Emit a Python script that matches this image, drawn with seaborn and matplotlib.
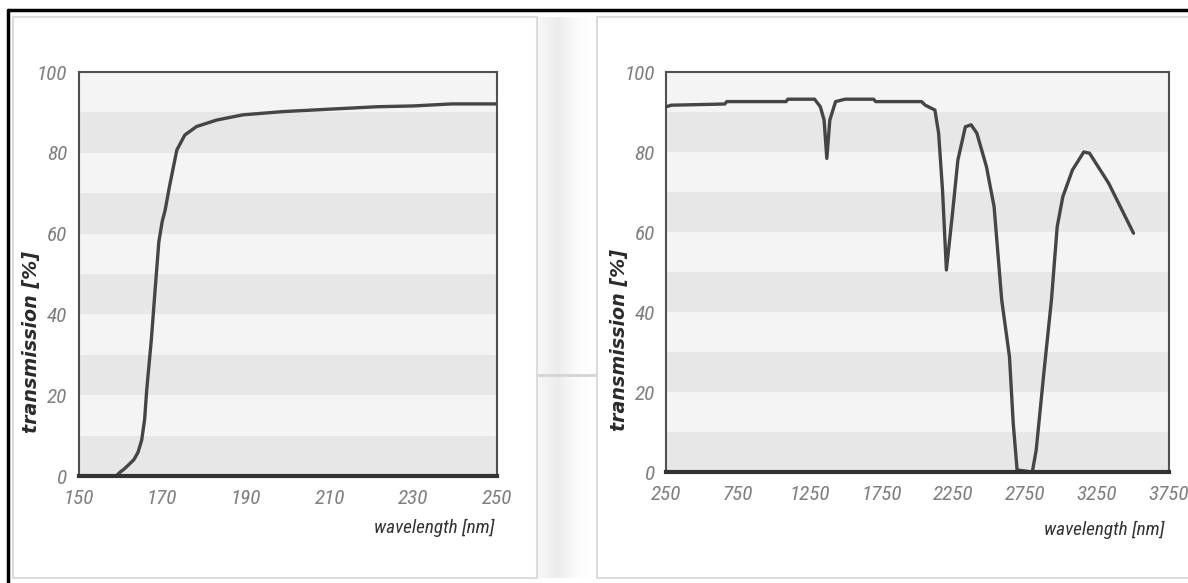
import numpy as np
import matplotlib.pyplot as plt
import pandas as pd
import seaborn as sns
from matplotlib import font_manager as fm
from matplotlib.colors import LinearSegmentedColormap
from matplotlib.patches import Rectangle
from matplotlib.lines import Line2D

# UV range curve (wavelength nm, transmission %)
uv_wl = [150, 159, 160.0, 161.0, 162.0, 163.2, 164.2, 165.1, 165.8, 166.3, 167.4, 168.3,
         169.2, 170.0, 170.7, 171.8, 173.5, 175.4, 178.2, 183.0, 189.3, 198.9, 210,
         221.3, 230, 239.2, 250]
uv_T = [0, 0, 1, 1.8, 2.8, 4, 5.8, 8.9, 14, 21.3, 33.7, 46,
        58, 63, 65.8, 72, 80.7, 84.4, 86.5, 88.1, 89.4, 90.2, 90.8,
        91.4, 91.6, 92.1, 92.1]

# IR range curve
ir_wl = [250, 287, 659, 673, 1085, 1098, 1284, 1324, 1350, 1369, 1390, 1430, 1496, 1695,
         1709, 2028, 2054, 2121, 2147, 2174, 2201, 2241, 2281, 2333, 2373, 2413, 2480,
         2533, 2586, 2640, 2666, 2693, 2799, 2826, 2879, 2932, 2972, 3011, 3078, 3157,
         3197, 3330, 3503]
ir_T = [91.3, 91.7, 92, 92.6, 92.6, 93.2, 93.2, 91.3, 88, 78.4, 88, 92.6, 93.2, 93.2,
        92.6, 92.6, 91.7, 90.5, 84.7, 70.5, 50.5, 63.8, 78, 86.3, 86.8, 84.7, 76.3,
        66.3, 43, 28.8, 12.2, 0.5, 0, 5.5, 24.7, 43, 61.3, 68.8, 75.5, 80,
        79.7, 72.2, 59.7]

uv_ticks = list(range(150, 251, 10))
uv_labels = [str(t) if (t - 150) % 20 == 0 else "" for t in uv_ticks]
ir_ticks = list(range(250, 3751, 500))
ir_labels = [str(t) for t in ir_ticks]
y_ticks = list(range(0, 101, 10))
y_labels = [str(t) if t % 20 == 0 else "" for t in y_ticks]


def has_font(name):
    try:
        fm.findfont(fm.FontProperties(family=name), fallback_to_default=False)
        return True
    except ValueError:
        return False


narrow = next(f for f in ["Liberation Sans Narrow", "Roboto Condensed", "Arial Narrow",
                          "Roboto", "Liberation Sans", "DejaVu Sans"] if has_font(f))

sns.set_style("white")
plt.rcParams['font.family'] = [narrow, 'DejaVu Sans']

W, H = 1188, 583
fig = plt.figure(figsize=(W / 100, H / 100), dpi=100)
fig.patch.set_facecolor("white")


def fx(px):
    return px / W


def fy(py):
    return 1 - py / H


# size the narrow font so "wavelength [nm]" is ~117 px wide, as in the reference
probe = fig.text(0, 0, "wavelength [nm]", family=narrow, style="italic", size=14)
pw = probe.get_window_extent(fig.canvas.get_renderer()).width
probe.remove()
k = 117 / pw
lab_size = 14.5 * k
tick_size = 16 * k

# panel boxes and the faint shading in the gap between them
fig.patches.append(Rectangle((fx(13), fy(578)), fx(537 - 13), (578 - 17) / H,
                             transform=fig.transFigure, facecolor="white",
                             edgecolor="#dcdcdc", lw=1.5, zorder=-2))
fig.patches.append(Rectangle((fx(597), fy(578)), fx(1200 - 597), (578 - 17) / H,
                             transform=fig.transFigure, facecolor="white",
                             edgecolor="#dcdcdc", lw=1.5, zorder=-2))
gap = fig.add_axes([fx(538), fy(578), fx(596 - 538), (578 - 17) / H], zorder=-1)
shade = LinearSegmentedColormap.from_list("shade", ["#f7f7f7", "#ececec", "#fbfbfb", "#ffffff"])
gap.imshow(np.linspace(0, 1, 60)[None, :], aspect="auto", cmap=shade, extent=[0, 1, 0, 1])
gap.axhline((578 - 375) / (578 - 17), color="#d4d4d4", lw=2)
gap.set_axis_off()

# black frame lines at top and left
fig.lines.append(Line2D([fx(8), 1], [fy(10), fy(10)], transform=fig.transFigure, color="black", lw=2.5))
fig.lines.append(Line2D([fx(8), fx(8)], [0, fy(10)], transform=fig.transFigure, color="black", lw=2.5))

ax1 = fig.add_axes([fx(78.5), fy(476), fx(497 - 78.5), (476 - 72) / H], zorder=2)
ax2 = fig.add_axes([fx(666), fy(472), fx(1169 - 666), (472 - 72) / H], zorder=2)

tick_font = dict(family=[narrow, 'DejaVu Sans'], style="italic", size=tick_size, color="#7f7f7f")

for ax, wl, T, xt, xl, xlim in [(ax1, uv_wl, uv_T, uv_ticks, uv_labels, (150, 250)),
                                (ax2, ir_wl, ir_T, ir_ticks, ir_labels, (250, 3750))]:
    for lo in range(0, 100, 10):
        ax.axhspan(lo, lo + 10, color="#e7e7e7" if (lo // 10) % 2 == 0 else "#f4f4f4", lw=0, zorder=0)
    df = pd.DataFrame({"wl": wl, "T": T})
    sns.lineplot(data=df, x="wl", y="T", ax=ax, color="#454545", lw=2.4, sort=False,
                 estimator=None, zorder=3)
    ax.set_xlim(*xlim)
    ax.set_ylim(0, 100)
    ax.set_xticks(xt)
    ax.set_xticklabels(xl, fontdict=tick_font)
    ax.set_yticks(y_ticks)
    ax.set_yticklabels(y_labels, fontdict=tick_font)
    ax.tick_params(axis="x", direction="out", length=4, width=1.2, color="#555555", pad=5)
    ax.tick_params(axis="y", direction="out", length=3, width=1.2, color="#555555", pad=5)
    for s in ["top", "left", "right"]:
        ax.spines[s].set_color("#505050")
        ax.spines[s].set_linewidth(1.5)
    ax.spines["bottom"].set_color("#333333")
    ax.spines["bottom"].set_linewidth(3)
    ax.spines["bottom"].set_zorder(4)
    ax.set_xlabel("")
    ax.set_ylabel("")

lab_font = dict(family=[narrow, 'DejaVu Sans'], style="italic", size=lab_size, color="#333333")
fig.text(fx(494), fy(528), "wavelength [nm]", ha="right", va="center", **lab_font)
fig.text(fx(1164), fy(530), "wavelength [nm]", ha="right", va="center", **lab_font)

y_font = dict(family="DejaVu Sans", style="italic", weight="bold", size=13.8, color="#2a2a2a")
fig.text(fx(32), fy(342), "transmission [%]", rotation=90, ha="center", va="center", **y_font)
fig.text(fx(620), fy(340), "transmission [%]", rotation=90, ha="center", va="center", **y_font)

fig.savefig("out.png", dpi=100, facecolor="white")
